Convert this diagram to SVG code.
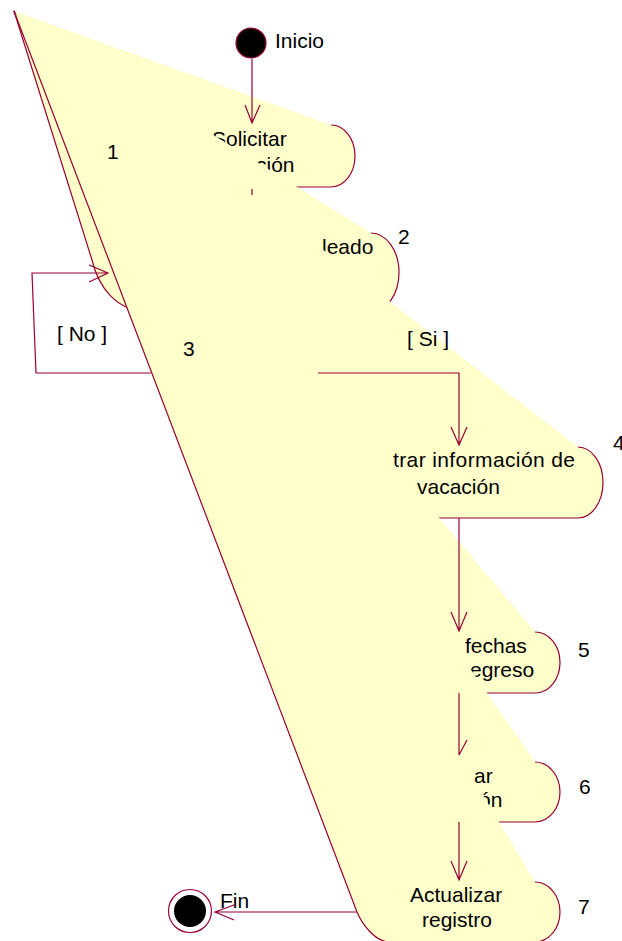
<svg xmlns="http://www.w3.org/2000/svg" width="622" height="941" viewBox="0 0 622 941">
<style>
.act{fill:#FFFFCC;stroke:#990033;stroke-width:1.2}
.t{font-family:"Liberation Sans",Arial,sans-serif;font-size:21px;fill:#000}
.c{fill:none;stroke:#990033;stroke-width:1.2}
</style>
<rect width="622" height="941" fill="#fff"/>
<g id="act1">
<path class="act" d="M331,125 A24 31 0 0 1 331,187 L93,187 L14,11"/>
<text class="t" x="212" y="146">Solicitar</text>
<text class="t" x="256" y="172">ción</text>
</g>
<g id="act2">
<path class="act" d="M371,233 A28 39.5 0 0 1 371,312 L150,312 C115,312 98,285 92,260 L14,11"/>
<text class="t" x="322" y="254">leado</text>
</g>
<g id="act4">
<path class="act" d="M578,447 A25 35.5 0 0 1 578,518 L242,518 L14,11"/>
<text class="t" x="393" y="467" textLength="182" lengthAdjust="spacing">trar información de</text>
<text class="t" x="417" y="494">vacación</text>
</g>
<g id="act5">
<path class="act" d="M535,632 A25 30.5 0 0 1 535,693 L321,693 L14,11"/>
<text class="t" x="465" y="653">fechas</text>
<text class="t" x="470" y="677">egreso</text>
</g>
<g id="act6">
<path class="act" d="M535,762 A25 30 0 0 1 535,822 L379,822 L14,11"/>
<text class="t" x="474" y="783">ar</text>
<text class="t" x="479" y="807">ón</text>
</g>
<g id="act7">
<path class="act" d="M535,882 A25 30 0 0 1 535,942 L390,942 C375,942 362,924 357,912 L14,11"/>
<text class="t" x="410" y="902">Actualizar</text>
<text class="t" x="422" y="927">registro</text>
</g>
<g id="inicio">
<circle cx="251" cy="43" r="15" fill="#000" stroke="#990033" stroke-width="1.2"/>
<text class="t" x="275" y="48">Inicio</text>
</g>
<g id="fin">
<circle cx="190" cy="911" r="21.5" fill="#fff" stroke="#990033" stroke-width="1.2"/>
<circle cx="190" cy="911" r="16" fill="#000"/>
<text class="t" x="220" y="908">Fin</text>
</g>
<g id="connectors">
<path class="c" d="M252,59 V123 M245,105 L252,123 L260,105"/>
<path class="c" d="M252,189 V195"/>
<path class="c" d="M151,373 H36 L32,273 H108 M89,265 L108,273 L89,282"/>
<path class="c" d="M318,373 H459 V445 M451,427 L459,445 L467,427"/>
<path class="c" d="M459,518 V631 M451,612 L459,631 L467,612"/>
<path class="c" d="M459,693 V755 M467,740 L459,755"/>
<path class="c" d="M459,822 V880 M451,861 L459,880 L467,861"/>
<path class="c" d="M357,912 H215 M234,905 L215,912 L234,920"/>
</g>
<g id="labels">
<text class="t" x="57" y="341">[ No ]</text>
<text class="t" x="407" y="346">[ Si ]</text>
<text class="t" x="107" y="159">1</text>
<text class="t" x="398" y="244">2</text>
<text class="t" x="183" y="356">3</text>
<text class="t" x="613" y="450">4</text>
<text class="t" x="578" y="657">5</text>
<text class="t" x="579" y="794">6</text>
<text class="t" x="578" y="914">7</text>
</g>
</svg>
